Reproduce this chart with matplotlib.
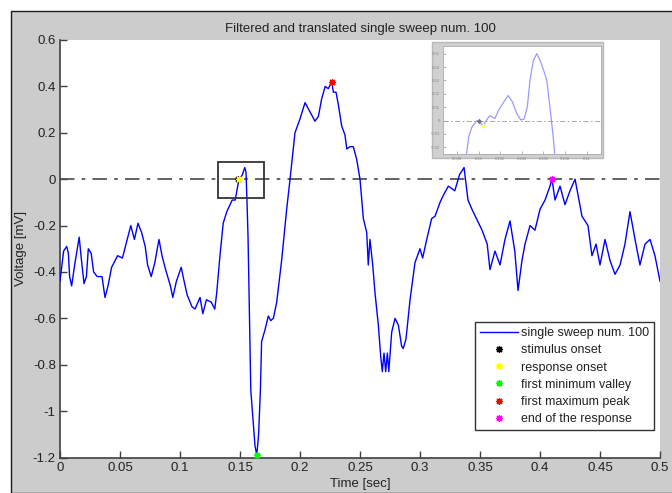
import matplotlib
matplotlib.use("Agg")
import matplotlib.pyplot as plt
from matplotlib.patches import Rectangle

plt.rcParams['font.family'] = ['Liberation Sans', 'DejaVu Sans']

# ---------------- data ----------------
time_s = [0.000, 0.003, 0.0056, 0.007, 0.008, 0.0097, 0.0125, 0.016, 0.0175, 0.020,
          0.022, 0.0236, 0.026, 0.028, 0.031, 0.035, 0.0375, 0.040, 0.043, 0.046,
          0.048, 0.052, 0.054, 0.057, 0.059, 0.062, 0.065, 0.068, 0.071, 0.073,
          0.076, 0.079, 0.0825, 0.085, 0.088, 0.092, 0.094, 0.097, 0.101, 0.103,
          0.106, 0.110, 0.1125, 0.1167, 0.119, 0.122, 0.126, 0.129, 0.1306, 0.1333,
          0.136, 0.139, 0.1435, 0.146, 0.1486, 0.152, 0.154, 0.155, 0.1558, 0.1567,
          0.159, 0.161, 0.1625, 0.164, 0.1655, 0.167, 0.168, 0.1708, 0.1736, 0.1756,
          0.1778, 0.1806, 0.1847, 0.1889, 0.1917, 0.1958, 0.200, 0.2042, 0.2083, 0.2125,
          0.2153, 0.218, 0.221, 0.2236, 0.2264, 0.2278, 0.230, 0.232, 0.2347, 0.2375,
          0.239, 0.2417, 0.2444, 0.2472, 0.250, 0.2528, 0.2556, 0.2569, 0.2583, 0.2606,
          0.2625, 0.2653, 0.2672, 0.2686, 0.270, 0.2714, 0.2728, 0.274, 0.2764, 0.2792,
          0.282, 0.2847, 0.286, 0.2883, 0.2917, 0.2958, 0.300, 0.3022, 0.3056, 0.3097,
          0.3125, 0.3167, 0.3194, 0.3236, 0.329, 0.333, 0.3367, 0.340, 0.3433, 0.348,
          0.3517, 0.356, 0.3583, 0.3625, 0.3667, 0.3708, 0.375, 0.379, 0.3817, 0.385,
          0.3875, 0.3917, 0.3958, 0.400, 0.4042, 0.4083, 0.410, 0.4125, 0.4167, 0.4208,
          0.425, 0.4292, 0.4317, 0.435, 0.440, 0.4433, 0.4467, 0.450, 0.4542, 0.4583,
          0.4625, 0.4667, 0.4708, 0.475, 0.4792, 0.4833, 0.4875, 0.4917, 0.4958, 0.500]
voltage_mv = [-0.44, -0.31, -0.29, -0.32, -0.42, -0.46, -0.36, -0.25, -0.33, -0.45,
              -0.42, -0.30, -0.32, -0.40, -0.42, -0.42, -0.51, -0.46, -0.38, -0.35,
              -0.33, -0.34, -0.30, -0.24, -0.20, -0.26, -0.19, -0.23, -0.29, -0.37,
              -0.42, -0.36, -0.26, -0.33, -0.39, -0.46, -0.51, -0.44, -0.38, -0.43,
              -0.50, -0.55, -0.56, -0.51, -0.58, -0.52, -0.53, -0.56, -0.49, -0.33,
              -0.19, -0.14, -0.09, -0.09, -0.015, 0.02, 0.05, 0.03, -0.09, -0.25,
              -0.91, -1.05, -1.15, -1.19, -1.10, -0.91, -0.70, -0.65, -0.59, -0.61,
              -0.60, -0.53, -0.35, -0.13, 0.00, 0.20, 0.26, 0.33, 0.29, 0.25,
              0.27, 0.345, 0.40, 0.39, 0.42, 0.375, 0.375, 0.32, 0.23, 0.19,
              0.13, 0.14, 0.14, 0.086, 0.00, -0.17, -0.23, -0.37, -0.26, -0.37,
              -0.49, -0.63, -0.76, -0.83, -0.75, -0.83, -0.75, -0.83, -0.66, -0.60,
              -0.63, -0.72, -0.73, -0.69, -0.52, -0.36, -0.30, -0.34, -0.26, -0.17,
              -0.16, -0.10, -0.07, -0.03, -0.05, 0.02, 0.05, -0.09, -0.13, -0.18,
              -0.22, -0.28, -0.39, -0.31, -0.37, -0.26, -0.18, -0.31, -0.48, -0.35,
              -0.28, -0.20, -0.22, -0.13, -0.09, -0.03, 0.00, -0.09, -0.03, -0.11,
              -0.05, 0.00, -0.07, -0.16, -0.20, -0.33, -0.28, -0.37, -0.26, -0.35,
              -0.41, -0.37, -0.28, -0.14, -0.26, -0.37, -0.28, -0.26, -0.33, -0.44]

# event markers (time, voltage)
stimulus_onset = (0.148, 0.0)
response_onset = (0.1494, 0.0)
first_min_valley = (0.164, -1.19)
first_max_peak = (0.2264, 0.42)
end_of_response = (0.410, 0.0)

# zoom box around response onset
box_t = (0.132, 0.170)
box_v = (-0.083, 0.075)

# inset (zoomed filtered curve)
inset_t = [0.09887, 0.09908, 0.0994, 0.09986, 0.10017, 0.1004, 0.10073, 0.10103, 0.10126,
           0.1015, 0.10187, 0.10234, 0.10274, 0.10312, 0.10352, 0.10389, 0.1042, 0.10451,
           0.10475, 0.10507, 0.10538, 0.10568, 0.106, 0.10631, 0.10652, 0.10674, 0.10693,
           0.10705]
inset_v = [-0.0256, -0.012, -0.0045, 0.0, -0.002, -0.004, 0.0005, 0.0035, 0.0025,
           0.0015, 0.008, 0.014, 0.0187, 0.014, 0.0055, 0.0005, 0.001, 0.0104,
           0.030, 0.045, 0.050, 0.045, 0.038, 0.030, 0.0155, 0.0, -0.0144,
           -0.0256]
inset_stim = (0.1000, 0.0)
inset_resp = (0.1004, -0.004)

xticks = [0, 0.05, 0.1, 0.15, 0.2, 0.25, 0.3, 0.35, 0.4, 0.45, 0.5]
xticklabels = ['0', '0.05', '0.1', '0.15', '0.2', '0.25', '0.3', '0.35', '0.4', '0.45', '0.5']
yticks = [0.6, 0.4, 0.2, 0, -0.2, -0.4, -0.6, -0.8, -1, -1.2]
yticklabels = ['0.6', '0.4', '0.2', '0', '-0.2', '-0.4', '-0.6', '-0.8', '-1', '-1.2']
inset_xticks = [0.098, 0.100, 0.102, 0.104, 0.106, 0.108, 0.110]
inset_xticklabels = ['0.098', '0.10', '0.102', '0.104', '0.106', '0.108', '0.11']
inset_yticks = [0.05, 0.04, 0.03, 0.02, 0.01, 0, -0.01, -0.02]
inset_yticklabels = ['0.05', '0.04', '0.03', '0.02', '0.01', '0', '-0.01', '-0.02']

# ---------------- figure ----------------
W, H = 672, 493
fig = plt.figure(figsize=(W / 100, H / 100), dpi=100, facecolor='white')

def fx(px):
    return px / W

def fy(py):
    return 1 - py / H

gray_bg = '#cccccc'
fig.patches.append(Rectangle((fx(10.5), 0), 1.0, fy(10.5), transform=fig.transFigure,
                             facecolor=gray_bg, edgecolor='#1a1a1a', lw=1.0, zorder=-5))

ax = fig.add_axes([fx(60), fy(457.5), fx(660) - fx(60), fy(40) - fy(457.5)])
ax.set_facecolor('white')
ax.plot(time_s, voltage_mv, color='#0000ff', lw=1.0, label='single sweep num. 100', zorder=3)
ax.axhline(0, color='#555555', lw=1.3, ls=(0, (8, 4, 2, 4)), zorder=2)
ax.add_patch(Rectangle((box_t[0], box_v[0]), box_t[1] - box_t[0], box_v[1] - box_v[0],
                       fill=False, edgecolor='#333333', lw=1.3, zorder=4))

mk = dict(marker=(8, 2, 0), markersize=5, markeredgewidth=0.9, linestyle='none', zorder=5)
ax.plot(*stimulus_onset, color='k', label='stimulus onset', **mk)
ax.plot(*response_onset, color='#ffff00', label='response onset', **mk)
ax.plot(*first_min_valley, color='#00ff00', label='first minimum valley', **mk, clip_on=False)
ax.plot(*first_max_peak, color='#ff0000', label='first maximum peak', **mk)
ax.plot(*end_of_response, color='#ff00ff', label='end of the response', **mk)

ax.set_xlim(0, 0.5)
ax.set_ylim(-1.2, 0.6)
ax.set_xticks(xticks)
ax.set_xticklabels(xticklabels)
ax.set_yticks(yticks)
ax.set_yticklabels(yticklabels)
for s in ['top', 'right']:
    ax.spines[s].set_visible(False)
for s in ['left', 'bottom']:
    ax.spines[s].set_color('#404040')
    ax.spines[s].set_linewidth(1.2)
ax.tick_params(direction='in', length=5, width=1.0, color='#404040',
               labelsize=9.5, labelcolor='#222222', pad=3)
ax.set_xlabel('Time [sec]', fontsize=9.5, color='#222222', labelpad=3)
ax.set_ylabel('Voltage [mV]', fontsize=9.5, color='#222222', labelpad=4)
ax.set_title('Filtered and translated single sweep num. 100', fontsize=9.5,
             color='#222222', pad=5.5)

leg = ax.legend(loc='upper left', bbox_to_anchor=(fx(475), fy(322)),
                bbox_transform=fig.transFigure, borderaxespad=0, fontsize=9,
                frameon=True, fancybox=False, edgecolor='#333333', framealpha=1,
                handlelength=3.0, labelspacing=0.42, handletextpad=0.3,
                borderpad=0.4)
leg.get_frame().set_linewidth(1.0)
for t in leg.get_texts():
    t.set_color('#222222')

# inset panel
fig.patches.append(Rectangle((fx(432), fy(158)), fx(603) - fx(432), fy(42) - fy(158),
                             transform=fig.transFigure, facecolor='#d0d0d0',
                             edgecolor='#b8b8b8', lw=1.0, zorder=1))
axi = fig.add_axes([fx(443), fy(154), fx(600.7) - fx(443), fy(46) - fy(154)], zorder=2)
axi.set_facecolor('white')
axi.plot(inset_t, inset_v, color='#9a9aff', lw=0.9)
axi.axhline(0, color='#999999', lw=0.6, ls=(0, (6, 3, 2, 3)))
axi.plot(*inset_stim, color='#777777', marker=(8, 2, 0), markersize=3, mew=0.6, ls='none')
axi.plot(*inset_resp, color='#ffff66', marker=(8, 2, 0), markersize=3, mew=0.6, ls='none')
axi.set_xlim(0.0967, 0.1113)
axi.set_ylim(-0.025, 0.0557)
axi.set_xticks(inset_xticks)
axi.set_xticklabels(inset_xticklabels)
axi.set_yticks(inset_yticks)
axi.set_yticklabels(inset_yticklabels)
axi.tick_params(direction='in', length=2, width=0.5, color='#999999',
                labelsize=3, labelcolor='#888888', pad=2)
for s in axi.spines.values():
    s.set_color('#aaaaaa')
    s.set_linewidth(0.6)

fig.savefig('out.png', dpi=100, facecolor=fig.get_facecolor())
